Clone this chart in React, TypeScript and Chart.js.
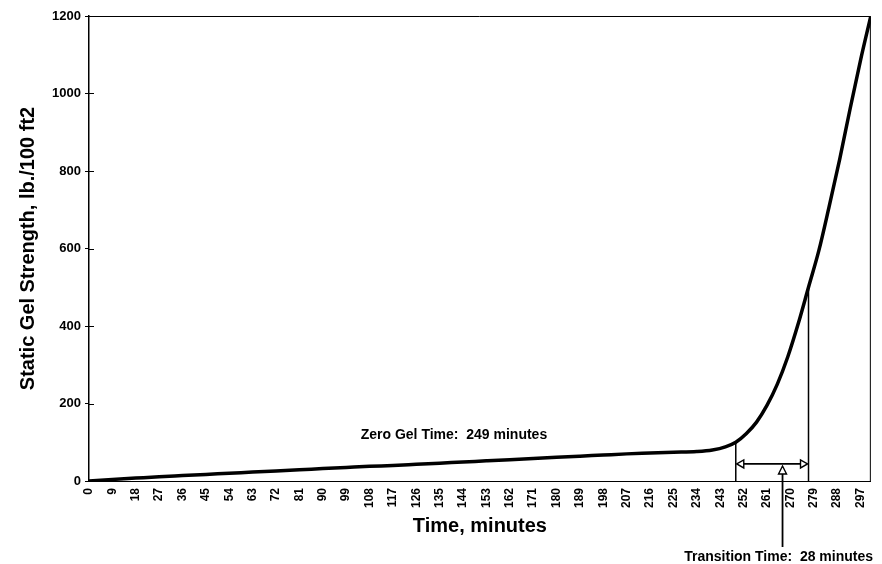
import React, { useEffect, useRef } from 'react';
import { Chart, registerables } from 'chart.js';

Chart.register(...registerables);

// ---- data ----
const timeMinutes = [
  0, 9, 18, 27, 36, 45, 54, 63, 72, 81, 90, 99, 108, 117, 126, 135, 144, 153, 162, 171,
  180, 189, 198, 207, 216, 225, 234, 240, 245, 249, 253, 257, 261, 265, 269, 273, 277,
  281, 285, 289, 293, 297, 301,
];
const gelStrength = [
  0, 4, 7.5, 11, 14, 17, 20, 23, 26, 29, 32, 35, 38, 40, 43, 46, 49, 52, 55, 58,
  61, 64, 67, 70, 72, 74, 76, 80, 88, 100, 122, 152, 195, 250, 320, 405, 500,
  595, 710, 830, 960, 1085, 1200,
];
const xTickStep = 9;
const xMax = 301;
const yMin = 0;
const yMax = 1200;
const yTickStep = 200;
const yTickValues = [0, 200, 400, 600, 800, 1000, 1200];

const zeroGelTime = 249;
const zeroGelStrength = 100;
const transitionMinutes = 28;
const transitionEndStrength = 500;
const transitionArrowLevel = 44;
const transitionPointerTime = 267;

const zeroGelLabel = 'Zero Gel Time:  249 minutes';
const zeroGelLabelTime = 140.5;
const zeroGelLabelStrength = 118;
const transitionLabel = 'Transition Time:  28 minutes';
const transitionLabelTime = 265.5;

const xTitle = 'Time, minutes';
const yTitle = 'Static Gel Strength, lb./100 ft2';

const FAMILY = 'Arial, "Liberation Sans", Helvetica, sans-serif';

const annotationPlugin = {
  id: 'gelAnnotations',
  beforeDatasetsDraw(chart: any) {
    const { ctx, chartArea, scales } = chart;
    const y = scales.y;
    ctx.save();
    ctx.strokeStyle = '#000';
    ctx.lineWidth = 1;
    // frame top & right
    ctx.beginPath();
    ctx.moveTo(chartArea.left, chartArea.top + 0.5);
    ctx.lineTo(chartArea.right - 0.5, chartArea.top + 0.5);
    ctx.lineTo(chartArea.right - 0.5, chartArea.bottom);
    ctx.stroke();
    // inner part of y tick marks
    for (const v of yTickValues) {
      const py = Math.round(y.getPixelForValue(v)) + 0.5;
      ctx.beginPath();
      ctx.moveTo(chartArea.left, py);
      ctx.lineTo(chartArea.left + 5, py);
      ctx.stroke();
    }
    ctx.restore();
  },
  afterDatasetsDraw(chart: any) {
    const { ctx, scales, height } = chart;
    const x = scales.x;
    const y = scales.y;
    const y0 = y.getPixelForValue(0);
    const endTime = zeroGelTime + transitionMinutes;
    const xa = x.getPixelForValue(zeroGelTime);
    const xb = x.getPixelForValue(endTime);
    ctx.save();
    ctx.strokeStyle = '#000';
    ctx.fillStyle = '#000';
    ctx.lineWidth = 1.5;

    // vertical markers
    ctx.beginPath();
    ctx.moveTo(xa, y0);
    ctx.lineTo(xa, y.getPixelForValue(zeroGelStrength));
    ctx.moveTo(xb, y0);
    ctx.lineTo(xb, y.getPixelForValue(transitionEndStrength));
    ctx.stroke();

    // horizontal double arrow
    const ya = y.getPixelForValue(transitionArrowLevel);
    const hl = 8;
    const hw = 4;
    ctx.lineWidth = 1.8;
    ctx.beginPath();
    ctx.moveTo(xa + hl, ya);
    ctx.lineTo(xb - hl, ya);
    ctx.stroke();
    const head = (pts: number[][]) => {
      ctx.beginPath();
      ctx.moveTo(pts[0][0], pts[0][1]);
      ctx.lineTo(pts[1][0], pts[1][1]);
      ctx.lineTo(pts[2][0], pts[2][1]);
      ctx.closePath();
      ctx.fillStyle = '#fff';
      ctx.fill();
      ctx.stroke();
    };
    ctx.lineWidth = 1.4;
    head([[xa + 1, ya], [xa + hl, ya - hw], [xa + hl, ya + hw]]);
    head([[xb - 1, ya], [xb - hl, ya - hw], [xb - hl, ya + hw]]);

    // pointer arrow
    const px = x.getPixelForValue(transitionPointerTime);
    ctx.lineWidth = 1.8;
    ctx.beginPath();
    ctx.moveTo(px, height - 17);
    ctx.lineTo(px, ya + 2 + hl);
    ctx.stroke();
    ctx.lineWidth = 1.4;
    head([[px, ya + 2], [px - hw, ya + 2 + hl], [px + hw, ya + 2 + hl]]);

    // texts
    ctx.fillStyle = '#000';
    ctx.font = `bold 14px ${FAMILY}`;
    ctx.textAlign = 'center';
    ctx.textBaseline = 'middle';
    ctx.fillText(zeroGelLabel, x.getPixelForValue(zeroGelLabelTime), y.getPixelForValue(zeroGelLabelStrength));
    ctx.textBaseline = 'alphabetic';
    ctx.fillText(transitionLabel, x.getPixelForValue(transitionLabelTime), height - 3);
    ctx.restore();
  },
};

export default function App() {
  const canvasRef = useRef<HTMLCanvasElement | null>(null);

  useEffect(() => {
    if (!canvasRef.current) return;
    const points = timeMinutes.map((t, i) => ({ x: t, y: gelStrength[i] }));
    const chart = new Chart(canvasRef.current, {
      type: 'line',
      data: {
        datasets: [
          {
            data: points,
            borderColor: '#000',
            borderWidth: 3.5,
            pointRadius: 0,
            fill: false,
            cubicInterpolationMode: 'monotone',
          },
        ],
      },
      options: {
        animation: false,
        responsive: false,
        layout: { padding: { left: 0, right: 11, top: 16, bottom: 0 } },
        plugins: {
          legend: { display: false },
          tooltip: { enabled: false },
        },
        scales: {
          x: {
            type: 'linear',
            min: 0,
            max: xMax,
            ticks: {
              stepSize: xTickStep,
              includeBounds: false,
              autoSkip: false,
              maxRotation: 90,
              minRotation: 90,
              padding: 7,
              color: '#000',
              font: { family: FAMILY, size: 12, weight: 'bold' },
              callback: (v: any) => String(v),
            },
            grid: { display: false, drawTicks: false },
            border: { display: true, color: '#000', width: 1 },
            title: {
              display: true,
              text: xTitle,
              color: '#000',
              font: { family: FAMILY, size: 20, weight: 'bold' },
              padding: { top: 0, bottom: 26 },
            },
            afterFit: (s: any) => {
              s.height = 83;
            },
          },
          y: {
            type: 'linear',
            min: yMin,
            max: yMax,
            ticks: {
              stepSize: yTickStep,
              padding: 4,
              color: '#000',
              font: { family: FAMILY, size: 13, weight: 'bold' },
              callback: (v: any) => String(v),
            },
            grid: { drawOnChartArea: false, drawTicks: true, tickLength: 4, color: '#000' },
            border: { display: true, color: '#000', width: 1.5 },
            title: {
              display: true,
              text: yTitle,
              color: '#000',
              font: { family: FAMILY, size: 20, weight: 'bold' },
              padding: { top: 16, bottom: 0 },
            },
            afterFit: (s: any) => {
              s.width = 89;
            },
          },
        },
      } as any,
      plugins: [annotationPlugin],
    });
    return () => chart.destroy();
  }, []);

  return (
    <div style={{ position: 'fixed', left: 0, top: 0, width: 882, height: 564, background: '#fff' }}>
      <canvas ref={canvasRef} width={882} height={564} />
    </div>
  );
}
